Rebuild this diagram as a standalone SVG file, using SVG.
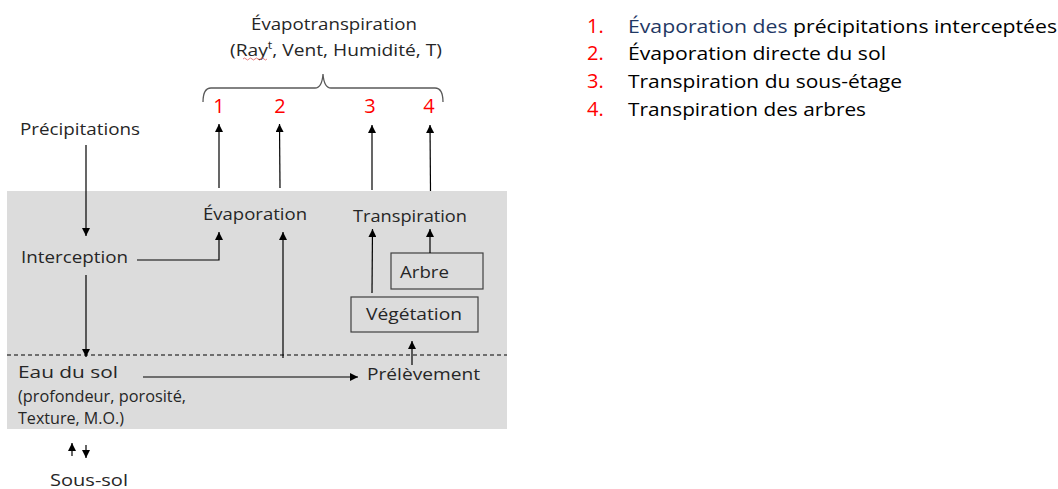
<svg xmlns="http://www.w3.org/2000/svg" width="1058" height="489" viewBox="0 0 1058 489">
<defs>
<marker id="ah" viewBox="0 0 10 10" refX="10" refY="5" markerWidth="8" markerHeight="8" markerUnits="userSpaceOnUse" orient="auto">
<path d="M0,0 L10,5 L0,10 z" fill="#000"/>
</marker>
<style>
text{font-family:"Open Sans","Noto Sans","Liberation Sans",sans-serif;fill:#262626;font-size:16.8px}
.red{fill:#ff0000;font-size:20px}
.leg{font-size:19px;fill:#000}
.num{fill:#ff0000;font-size:20px}
.blue{fill:#1f3864}
.conn line,.conn polyline{stroke:#000;stroke-width:1.2;fill:none;marker-end:url(#ah)}
.box{fill:none;stroke:#404040;stroke-width:1.2}
</style>
</defs>
<rect x="7" y="191" width="500" height="238" fill="#dcdcdc"/>
<line x1="7" y1="355" x2="507" y2="355" stroke="#000" stroke-width="1" stroke-dasharray="4,3"/>

<g id="evapotranspiration">
<text x="251" y="30" textLength="166" lengthAdjust="spacingAndGlyphs">Évapotranspiration</text>
<text x="230" y="56" textLength="212" lengthAdjust="spacingAndGlyphs">(Ray<tspan font-size="11" dy="-7">t</tspan><tspan dy="7">, Vent, Humidité, T)</tspan></text>
<path d="M243,59 q1.5,-2 3,0 t3,0 t3,0 t3,0 t3,0 t3,0 t3,0 t3,0" fill="none" stroke="#e06060" stroke-width="0.8"/>
<path d="M203,102 Q203,88 211,88 L315,88 Q322,88 323,74 Q324,88 331,88 L435,88 Q443,88 443,102" fill="none" stroke="#595959" stroke-width="1.3"/>
</g>
<g id="numbers">
<text class="red" x="219" y="113" text-anchor="middle">1</text>
<text class="red" x="280" y="113" text-anchor="middle">2</text>
<text class="red" x="370" y="113" text-anchor="middle">3</text>
<text class="red" x="429" y="113" text-anchor="middle">4</text>
</g>
<g id="precipitations"><text x="20" y="135" textLength="120" lengthAdjust="spacingAndGlyphs">Précipitations</text></g>
<g id="interception"><text x="21" y="263" textLength="107" lengthAdjust="spacingAndGlyphs">Interception</text></g>
<g id="evaporation"><text x="203" y="220" textLength="104" lengthAdjust="spacingAndGlyphs">Évaporation</text></g>
<g id="transpiration"><text x="353" y="222" textLength="114" lengthAdjust="spacingAndGlyphs">Transpiration</text></g>
<g id="arbre"><rect class="box" x="391" y="253" width="92" height="36"/><text x="400" y="278" textLength="49" lengthAdjust="spacingAndGlyphs">Arbre</text></g>
<g id="vegetation"><rect class="box" x="351" y="297" width="127" height="35"/><text x="366" y="320" textLength="96" lengthAdjust="spacingAndGlyphs">Végétation</text></g>
<g id="prelevement"><text x="367" y="380" textLength="113" lengthAdjust="spacingAndGlyphs">Prélèvement</text></g>
<g id="eau-du-sol">
<text x="18" y="378" font-size="18" textLength="100" lengthAdjust="spacingAndGlyphs">Eau du sol</text>
<text x="18" y="402" font-size="14" textLength="168" lengthAdjust="spacingAndGlyphs">(profondeur, porosité,</text>
<text x="18" y="424" font-size="14" textLength="106" lengthAdjust="spacingAndGlyphs">Texture, M.O.)</text>
</g>
<g id="sous-sol"><text x="50" y="486" textLength="78" lengthAdjust="spacingAndGlyphs">Sous-sol</text></g>

<g id="legend" class="leg">
<text class="num" x="587" y="33">1.</text>
<text class="leg" x="628" y="33" textLength="429" lengthAdjust="spacingAndGlyphs"><tspan class="blue">Évaporation des</tspan> précipitations interceptées</text>
<text class="num" x="587" y="60">2.</text>
<text class="leg" x="628" y="60" textLength="258" lengthAdjust="spacingAndGlyphs">Évaporation directe du sol</text>
<text class="num" x="587" y="88">3.</text>
<text class="leg" x="628" y="88" textLength="274" lengthAdjust="spacingAndGlyphs">Transpiration du sous-étage</text>
<text class="num" x="587" y="116">4.</text>
<text class="leg" x="628" y="116" textLength="238" lengthAdjust="spacingAndGlyphs">Transpiration des arbres</text>
</g>

<g id="connectors" class="conn">
<line x1="219" y1="188" x2="219" y2="124"/>
<line x1="280" y1="188" x2="279.5" y2="124"/>
<line x1="372" y1="190" x2="372" y2="125"/>
<line x1="430.5" y1="191" x2="430" y2="125"/>
<line x1="86" y1="145" x2="86" y2="236"/>
<polyline points="137,260 219,260 219,232"/>
<line x1="283" y1="358" x2="283" y2="232"/>
<line x1="372" y1="293" x2="372.5" y2="229"/>
<line x1="430" y1="253" x2="430" y2="229"/>
<line x1="412" y1="365" x2="412" y2="341"/>
<line x1="86" y1="275" x2="86" y2="357"/>
<line x1="143" y1="377" x2="358" y2="377"/>
<line x1="72" y1="456" x2="72" y2="443"/>
<line x1="86" y1="445" x2="86" y2="458"/>
</g>
</svg>
